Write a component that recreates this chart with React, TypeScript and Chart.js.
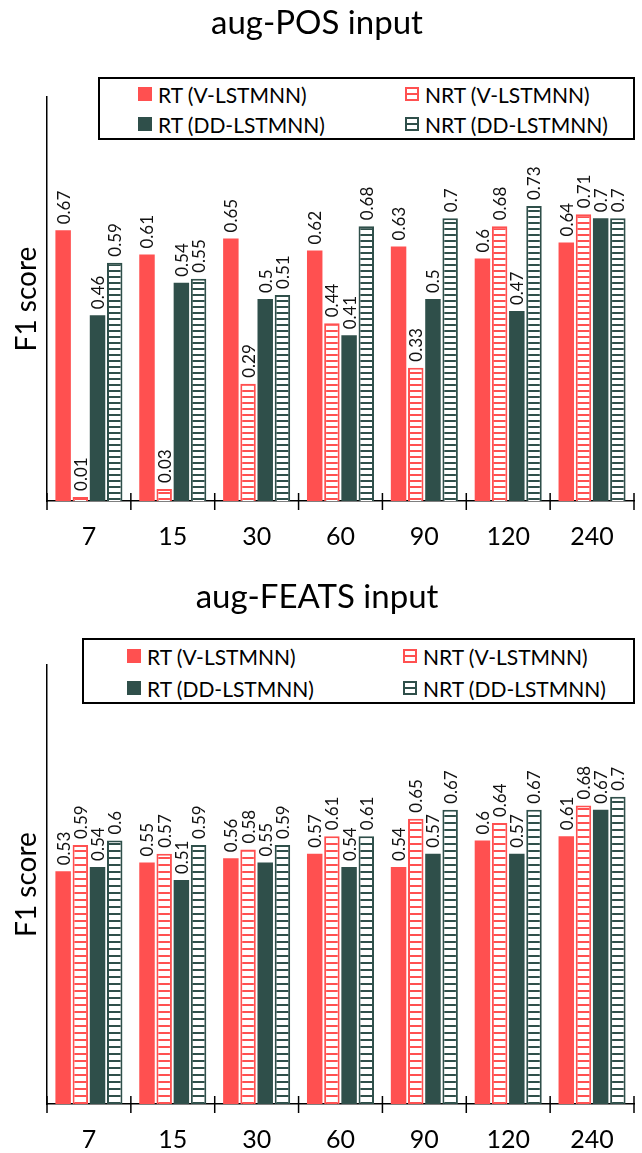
import React, { useEffect, useRef } from 'react';
import { Chart, registerables } from 'chart.js';

Chart.register(...registerables);

const categories = ['7', '15', '30', '60', '90', '120', '240'];
const seriesLabels = ['RT (V-LSTMNN)', 'NRT (V-LSTMNN)', 'RT (DD-LSTMNN)', 'NRT (DD-LSTMNN)'];

const posRtV = [0.67, 0.61, 0.65, 0.62, 0.63, 0.6, 0.64];
const posNrtV = [0.01, 0.03, 0.29, 0.44, 0.33, 0.68, 0.71];
const posRtDD = [0.46, 0.54, 0.5, 0.41, 0.5, 0.47, 0.7];
const posNrtDD = [0.59, 0.55, 0.51, 0.68, 0.7, 0.73, 0.7];

const featsRtV = [0.53, 0.55, 0.56, 0.57, 0.54, 0.6, 0.61];
const featsNrtV = [0.59, 0.57, 0.58, 0.61, 0.65, 0.64, 0.68];
const featsRtDD = [0.54, 0.51, 0.55, 0.54, 0.57, 0.57, 0.67];
const featsNrtDD = [0.6, 0.59, 0.59, 0.61, 0.67, 0.67, 0.7];

const RED = '#FF5050';
const GREEN = '#2F4F4A';
const FONT = 'Lato, "Open Sans", sans-serif';

function makePattern(color: string, period: number): CanvasPattern | string {
  const c = document.createElement('canvas');
  c.width = 8;
  c.height = period;
  const g = c.getContext('2d');
  if (!g) return color;
  g.fillStyle = '#fff';
  g.fillRect(0, 0, 8, period);
  g.fillStyle = color;
  g.fillRect(0, 0, 8, 2);
  return g.createPattern(c, 'repeat') || color;
}

const valueLabels = {
  id: 'valueLabels',
  afterDatasetsDraw(chart: any) {
    const ctx = chart.ctx;
    ctx.save();
    ctx.font = `17px ${FONT}`;
    ctx.fillStyle = '#111';
    ctx.textAlign = 'left';
    ctx.textBaseline = 'middle';
    chart.data.datasets.forEach((ds: any, i: number) => {
      const meta = chart.getDatasetMeta(i);
      meta.data.forEach((bar: any, j: number) => {
        const v = ds.data[j];
        ctx.save();
        ctx.translate(bar.x, bar.y - 6);
        ctx.rotate(-Math.PI / 2);
        ctx.fillText(String(v), 0, 1);
        ctx.restore();
      });
    });
    ctx.restore();
  },
};

const categoryTicks = {
  id: 'categoryTicks',
  afterDraw(chart: any) {
    const xs = chart.scales.x;
    const n = chart.data.labels.length;
    const ctx = chart.ctx;
    const b = chart.chartArea.bottom;
    ctx.save();
    ctx.strokeStyle = '#000';
    ctx.lineWidth = 1.5;
    for (let i = 0; i <= n; i++) {
      const x = xs.left + (i * xs.width) / n;
      ctx.beginPath();
      ctx.moveTo(x, b - 8);
      ctx.lineTo(x, b + 9);
      ctx.stroke();
    }
    ctx.restore();
  },
};

type PanelProps = {
  title: string;
  series: number[][];
  top: number;
  height: number;
  titlePadTop: number;
  titlePadBottom: number;
  xScaleHeight: number;
  labelPad: number;
  stripePeriod: number;
  legend: { left: number; top: number; width: number; height: number; col1: number; col2: number; row1: number; row2: number };
};

function Swatch({ idx }: { idx: number }) {
  const color = idx < 2 ? RED : GREEN;
  const striped = idx % 2 === 1;
  const style: React.CSSProperties = striped
    ? {
        width: 14,
        height: 14,
        boxSizing: 'border-box',
        border: `2px solid ${color}`,
        background: `linear-gradient(to bottom, transparent 4px, ${color} 4px, ${color} 6px, transparent 6px)`,
      }
    : { width: 14, height: 14, background: color };
  return <div style={style} />;
}

function Panel(p: PanelProps) {
  const ref = useRef<HTMLCanvasElement | null>(null);
  useEffect(() => {
    if (!ref.current) return;
    const colors = [RED, makePattern(RED, p.stripePeriod), GREEN, makePattern(GREEN, p.stripePeriod)];
    const borders = [RED, RED, GREEN, GREEN];
    const chart = new Chart(ref.current, {
      type: 'bar',
      data: {
        labels: categories,
        datasets: p.series.map((d, i) => ({
          label: seriesLabels[i],
          data: d,
          backgroundColor: colors[i] as any,
          borderColor: borders[i],
          borderWidth: i % 2 === 1 ? 2 : 0,
          categoryPercentage: 0.82,
          barPercentage: 0.9,
        })),
      },
      options: {
        animation: false,
        responsive: false,
        devicePixelRatio: 1,
        layout: { padding: { top: 0, right: 8, left: 0, bottom: 0 } },
        plugins: {
          legend: { display: false },
          tooltip: { enabled: false },
          title: {
            display: true,
            text: p.title,
            color: '#000',
            font: { family: FONT, size: 33, weight: 'normal' },
            padding: { top: p.titlePadTop, bottom: p.titlePadBottom },
          },
        },
        scales: {
          x: {
            grid: { display: false, drawTicks: false },
            border: { display: true, color: '#000', width: 1.5 },
            ticks: { color: '#000', font: { family: FONT, size: 25 }, padding: p.labelPad, maxRotation: 0 },
            afterFit: (s: any) => {
              s.height = p.xScaleHeight;
            },
          },
          y: {
            min: 0,
            max: 1,
            grid: { display: false, drawTicks: false },
            border: { display: true, color: '#000', width: 1.5 },
            ticks: { display: false },
            title: {
              display: true,
              text: 'F1 score',
              color: '#000',
              font: { family: FONT, size: 28 },
              padding: { top: 10, bottom: 0 },
            },
            afterFit: (s: any) => {
              s.width = 47;
            },
          },
        },
      },
      plugins: [valueLabels, categoryTicks],
    });
    return () => chart.destroy();
  }, []);

  const L = p.legend;
  const item = (idx: number, x: number, y: number) => (
    <div
      key={idx}
      style={{
        position: 'absolute',
        left: x,
        top: y - 12,
        height: 24,
        display: 'flex',
        alignItems: 'center',
        whiteSpace: 'nowrap',
      }}
    >
      <Swatch idx={idx} />
      <span style={{ marginLeft: 6, fontFamily: FONT, fontSize: 21, color: '#000' }}>{seriesLabels[idx]}</span>
    </div>
  );

  return (
    <div style={{ position: 'absolute', left: 0, top: p.top, width: 642, height: p.height }}>
      <canvas ref={ref} width={642} height={p.height} style={{ width: 642, height: p.height, display: 'block' }} />
      <div
        style={{
          position: 'absolute',
          left: L.left,
          top: L.top,
          width: L.width,
          height: L.height,
          border: '2px solid #000',
          boxSizing: 'border-box',
          background: '#fff',
        }}
      >
        {item(0, L.col1, L.row1)}
        {item(1, L.col2, L.row1)}
        {item(2, L.col1, L.row2)}
        {item(3, L.col2, L.row2)}
      </div>
    </div>
  );
}

export default function App() {
  return (
    <div style={{ position: 'absolute', left: 0, top: 0, width: 642, height: 1153, background: '#fff' }}>
      <Panel
        title="aug-POS input"
        series={[posRtV, posNrtV, posRtDD, posNrtDD]}
        top={0}
        height={570}
        titlePadTop={4}
        titlePadBottom={53.4}
        xScaleHeight={69}
        labelPad={21}
        stripePeriod={6}
        legend={{ left: 98, top: 77, width: 537, height: 63, col1: 38, col2: 305, row1: 15, row2: 45 }}
      />
      <Panel
        title="aug-FEATS input"
        series={[featsRtV, featsNrtV, featsRtDD, featsNrtDD]}
        top={570}
        height={583}
        titlePadTop={8}
        titlePadBottom={47.4}
        xScaleHeight={49}
        labelPad={21}
        stripePeriod={7}
        legend={{ left: 82, top: 68, width: 553, height: 66, col1: 43, col2: 319, row1: 16, row2: 48 }}
      />
    </div>
  );
}
